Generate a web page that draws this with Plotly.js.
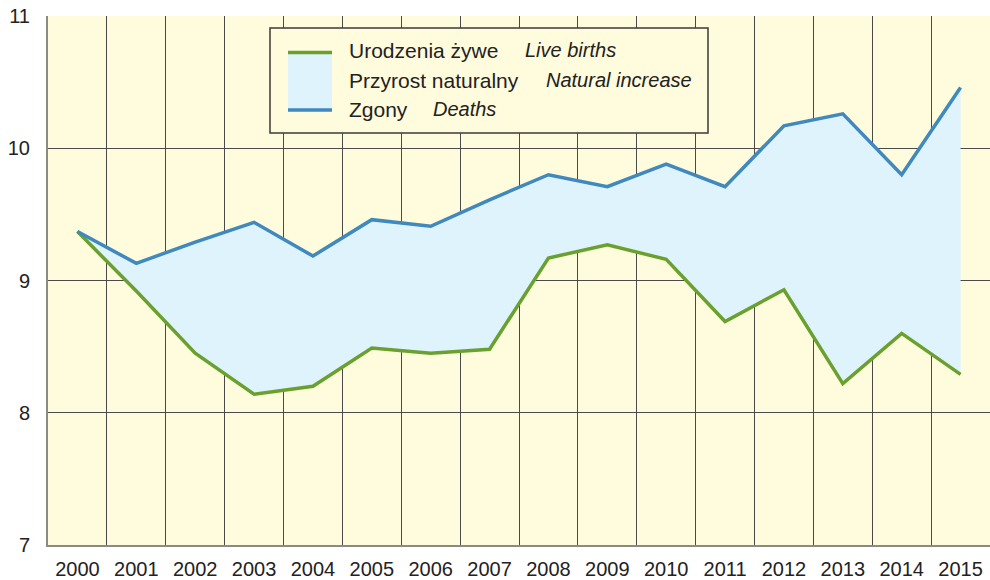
<!DOCTYPE html>
<html>
<head>
<meta charset="utf-8">
<script src="https://cdn.plot.ly/plotly-3.0.1.min.js"></script>
<style>html,body{margin:0;padding:0;background:#fff;}#chart{width:990px;height:580px;}</style>
</head>
<body>
<div id="chart"></div>
<script>
var years = ['2000','2001','2002','2003','2004','2005','2006','2007','2008','2009','2010','2011','2012','2013','2014','2015'];
var liveBirths = [9.37, 8.92, 8.45, 8.14, 8.20, 8.49, 8.45, 8.48, 9.17, 9.27, 9.16, 8.69, 8.93, 8.22, 8.60, 8.29];
var deaths = [9.37, 9.13, 9.29, 9.44, 9.185, 9.46, 9.41, 9.61, 9.80, 9.71, 9.88, 9.71, 10.17, 10.26, 9.80, 10.46];
var yTicks = [7, 8, 9, 10, 11];
var legendPl = ['Urodzenia żywe', 'Przyrost naturalny', 'Zgony'];
var legendEn = ['Live births', 'Natural increase', 'Deaths'];

var GREEN = '#6aa12e', BLUE = '#3f88c0', FILL = '#dff3fc', BG = '#fffbdd';
var W = 990, H = 580, ML = 48, MR = 0, MT = 16, MB = 35;
function px(x){ return (x - ML) / (W - ML - MR); }
function py(y){ return (H - MB - y) / (H - MT - MB); }

var traces = [
  {x: years, y: liveBirths, type: 'scatter', mode: 'lines', line: {width: 0, color: GREEN}, hoverinfo: 'skip', showlegend: false},
  {x: years, y: deaths, type: 'scatter', mode: 'lines', line: {width: 0, color: BLUE}, fill: 'tonexty', fillcolor: FILL, hoverinfo: 'skip', showlegend: false},
  {x: years, y: liveBirths, type: 'scatter', mode: 'lines', line: {width: 3.5, color: GREEN}, name: legendPl[0], showlegend: false},
  {x: years, y: deaths, type: 'scatter', mode: 'lines', line: {width: 3.5, color: BLUE}, name: legendPl[2], showlegend: false}
];

var FAM = 'Liberation Sans, Arial, sans-serif';
var legFont = {family: FAM, size: 21, color: '#222'};
var legItal = {family: FAM, size: 20, color: '#222', style: 'italic'};

var shapes = [
  {type: 'rect', xref: 'paper', yref: 'paper', x0: px(270), x1: px(708), y0: py(28), y1: py(133), fillcolor: BG, line: {color: '#3a3a3a', width: 1.5}},
  {type: 'rect', xref: 'paper', yref: 'paper', x0: px(288), x1: px(332), y0: py(52), y1: py(110), fillcolor: FILL, line: {width: 0}},
  {type: 'line', xref: 'paper', yref: 'paper', x0: px(288), x1: px(332), y0: py(52.5), y1: py(52.5), line: {color: GREEN, width: 3.5}},
  {type: 'line', xref: 'paper', yref: 'paper', x0: px(288), x1: px(332), y0: py(110), y1: py(110), line: {color: BLUE, width: 3.5}}
];

var rowsY = [50.5, 80, 109];
var enX = [525, 546, 433];
var annotations = [];
for (var i = 0; i < 3; i++) {
  annotations.push({xref: 'paper', yref: 'paper', x: px(347), y: py(rowsY[i]), xanchor: 'left', yanchor: 'middle', text: legendPl[i], showarrow: false, font: legFont});
  annotations.push({xref: 'paper', yref: 'paper', x: px(enX[i] - 2), y: py(rowsY[i]), xanchor: 'left', yanchor: 'middle', text: '<i>' + legendEn[i] + '</i>', showarrow: false, font: legItal});
}

var layout = {
  width: W, height: H,
  margin: {l: ML, r: MR, t: MT, b: MB, pad: 0},
  paper_bgcolor: '#ffffff',
  plot_bgcolor: BG,
  showlegend: false,
  font: {family: FAM, color: '#222'},
  xaxis: {
    type: 'category', range: [-0.5, 15.5], tickson: 'boundaries',
    showgrid: true, gridcolor: '#4a4a4a', gridwidth: 1,
    showline: true, linecolor: '#8c8a80', linewidth: 2,
    ticks: '', ticklabelstandoff: 5,
    tickfont: {family: FAM, size: 20, color: '#222'},
    fixedrange: true
  },
  yaxis: {
    range: [7, 11], tickvals: yTicks, ticktext: yTicks.map(String),
    showgrid: true, gridcolor: '#4a4a4a', gridwidth: 1, zeroline: false,
    showline: true, linecolor: '#8c8a80', linewidth: 2,
    ticks: '', ticklabelstandoff: 12,
    tickfont: {family: FAM, size: 20, color: '#222'},
    fixedrange: true
  },
  shapes: shapes,
  annotations: annotations
};

Plotly.newPlot('chart', traces, layout, {displayModeBar: false, staticPlot: true});
</script>
</body>
</html>
